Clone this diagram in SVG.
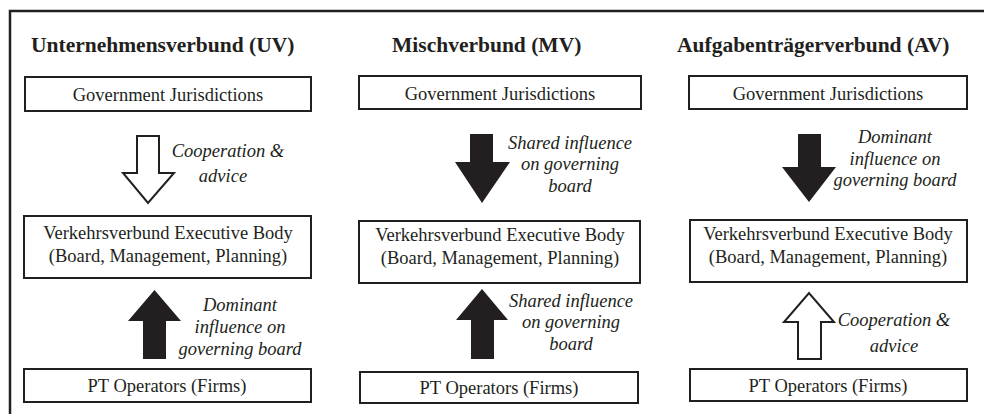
<svg xmlns="http://www.w3.org/2000/svg" width="984" height="414" viewBox="0 0 984 414">
<style>
.box{fill:#fff;stroke:#231f20;stroke-width:2}
.solid{fill:#231f20;stroke:none}
.hollow{fill:#fff;stroke:#231f20;stroke-width:2;stroke-linejoin:miter}
</style>
<rect width="984" height="414" fill="#fff"/>
<path d="M10,414 V11 H984" fill="none" stroke="#231f20" stroke-width="2.5"/>

<g id="col-uv">
<text font-family="Liberation Serif, serif" font-size="21.5" font-weight="bold" fill="#231f20" x="31" y="52">Unternehmensverbund (UV)</text>
<g id="uv-gov"><rect class="box" x="25" y="77" width="286" height="34"/><text font-family="Liberation Serif, serif" font-size="18.5" text-anchor="middle" fill="#231f20" x="168" y="101">Government Jurisdictions</text></g>
<g id="uv-exec"><rect class="box" x="24" y="216" width="287" height="62"/><text font-family="Liberation Serif, serif" font-size="18.5" text-anchor="middle" fill="#231f20" x="168" y="239">Verkehrsverbund Executive Body</text><text font-family="Liberation Serif, serif" font-size="18.5" text-anchor="middle" fill="#231f20" x="168" y="262">(Board, Management, Planning)</text></g>
<g id="uv-pt"><rect class="box" x="24" y="369" width="287" height="33"/><text font-family="Liberation Serif, serif" font-size="18.5" text-anchor="middle" fill="#231f20" x="167" y="392">PT Operators (Firms)</text></g>
</g>

<g id="col-mv">
<text font-family="Liberation Serif, serif" font-size="21.5" font-weight="bold" fill="#231f20" x="392" y="52">Mischverbund (MV)</text>
<g id="mv-gov"><rect class="box" x="359" y="76" width="282" height="33"/><text font-family="Liberation Serif, serif" font-size="18.5" text-anchor="middle" fill="#231f20" x="500" y="100">Government Jurisdictions</text></g>
<g id="mv-exec"><rect class="box" x="359" y="221" width="281" height="62"/><text font-family="Liberation Serif, serif" font-size="18.5" text-anchor="middle" fill="#231f20" x="500" y="241">Verkehrsverbund Executive Body</text><text font-family="Liberation Serif, serif" font-size="18.5" text-anchor="middle" fill="#231f20" x="500" y="264">(Board, Management, Planning)</text></g>
<g id="mv-pt"><rect class="box" x="360" y="372" width="278" height="31"/><text font-family="Liberation Serif, serif" font-size="18.5" text-anchor="middle" fill="#231f20" x="499" y="394">PT Operators (Firms)</text></g>
</g>

<g id="col-av">
<text font-family="Liberation Serif, serif" font-size="21.5" font-weight="bold" fill="#231f20" x="677" y="52">Aufgabenträgerverbund (AV)</text>
<g id="av-gov"><rect class="box" x="689" y="76" width="278" height="33"/><text font-family="Liberation Serif, serif" font-size="18.5" text-anchor="middle" fill="#231f20" x="828" y="100">Government Jurisdictions</text></g>
<g id="av-exec"><rect class="box" x="690" y="220" width="277" height="62"/><text font-family="Liberation Serif, serif" font-size="18.5" text-anchor="middle" fill="#231f20" x="828" y="240">Verkehrsverbund Executive Body</text><text font-family="Liberation Serif, serif" font-size="18.5" text-anchor="middle" fill="#231f20" x="828" y="263">(Board, Management, Planning)</text></g>
<g id="av-pt"><rect class="box" x="690" y="369" width="277" height="32"/><text font-family="Liberation Serif, serif" font-size="18.5" text-anchor="middle" fill="#231f20" x="828" y="392">PT Operators (Firms)</text></g>
</g>

<g id="connectors">
<path class="hollow" d="M137,136 H159 V173 H174 L148,203 L123,173 H137 Z"/>
<text font-family="Liberation Serif, serif" font-size="18.5" font-style="italic" text-anchor="middle" fill="#231f20" x="228" y="157">Cooperation &amp;</text>
<text font-family="Liberation Serif, serif" font-size="18.5" font-style="italic" text-anchor="middle" fill="#231f20" x="223" y="182">advice</text>

<path class="solid" d="M143,359 V321 H128 L154.5,290 L181,321 H166 V359 Z"/>
<text font-family="Liberation Serif, serif" font-size="18.5" font-style="italic" text-anchor="middle" fill="#231f20" x="240" y="311">Dominant</text>
<text font-family="Liberation Serif, serif" font-size="18.5" font-style="italic" text-anchor="middle" fill="#231f20" x="240" y="333">influence on</text>
<text font-family="Liberation Serif, serif" font-size="18.5" font-style="italic" text-anchor="middle" fill="#231f20" x="240" y="355">governing board</text>

<path class="solid" d="M470,134 H493 V162 H510 L482,203 L455,162 H470 Z"/>
<text font-family="Liberation Serif, serif" font-size="18.5" font-style="italic" text-anchor="middle" fill="#231f20" x="570" y="149">Shared influence</text>
<text font-family="Liberation Serif, serif" font-size="18.5" font-style="italic" text-anchor="middle" fill="#231f20" x="570" y="170">on governing</text>
<text font-family="Liberation Serif, serif" font-size="18.5" font-style="italic" text-anchor="middle" fill="#231f20" x="570" y="192">board</text>

<path class="solid" d="M471,359 V320 H456 L482,289 L508,320 H494 V359 Z"/>
<text font-family="Liberation Serif, serif" font-size="18.5" font-style="italic" text-anchor="middle" fill="#231f20" x="571" y="307">Shared influence</text>
<text font-family="Liberation Serif, serif" font-size="18.5" font-style="italic" text-anchor="middle" fill="#231f20" x="571" y="328">on governing</text>
<text font-family="Liberation Serif, serif" font-size="18.5" font-style="italic" text-anchor="middle" fill="#231f20" x="571" y="350">board</text>

<path class="solid" d="M798,134 H821 V167 H836 L809,202 L782,167 H798 Z"/>
<text font-family="Liberation Serif, serif" font-size="18.5" font-style="italic" text-anchor="middle" fill="#231f20" x="895" y="143">Dominant</text>
<text font-family="Liberation Serif, serif" font-size="18.5" font-style="italic" text-anchor="middle" fill="#231f20" x="895" y="165">influence on</text>
<text font-family="Liberation Serif, serif" font-size="18.5" font-style="italic" text-anchor="middle" fill="#231f20" x="895" y="186">governing board</text>

<path class="hollow" d="M798,359 V322 H784 L809,293 L834,322 H821 V359 Z"/>
<text font-family="Liberation Serif, serif" font-size="18.5" font-style="italic" text-anchor="middle" fill="#231f20" x="894" y="326">Cooperation &amp;</text>
<text font-family="Liberation Serif, serif" font-size="18.5" font-style="italic" text-anchor="middle" fill="#231f20" x="894" y="352">advice</text>
</g>
</svg>
